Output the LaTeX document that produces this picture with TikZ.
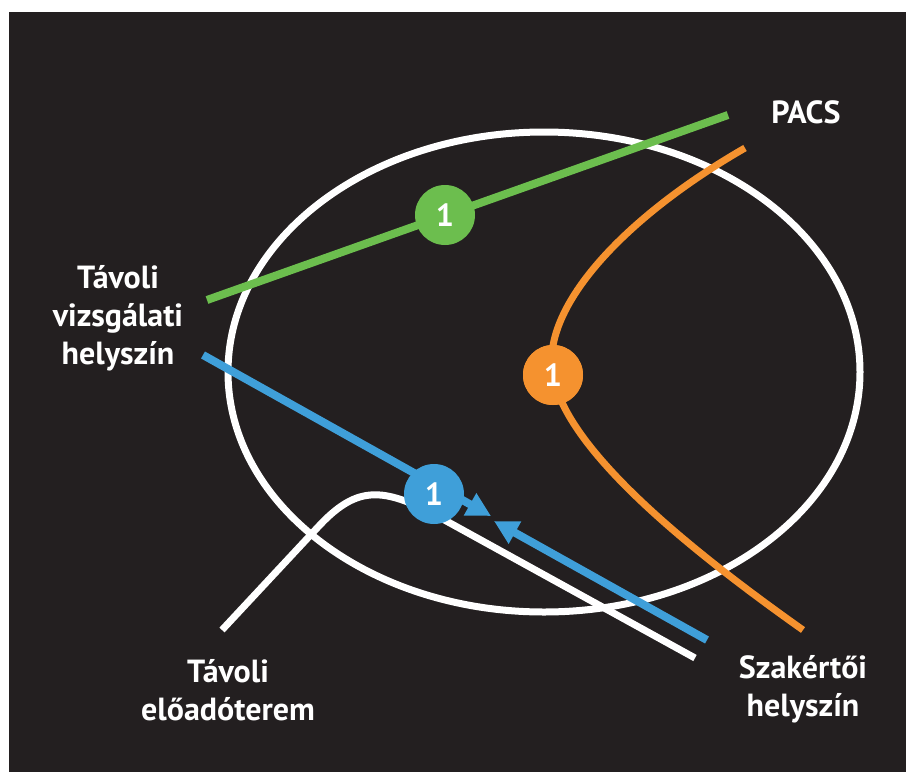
\documentclass[tikz,border=0pt]{standalone}
\usepackage{fontspec}
\setmainfont{PT Sans}
\usetikzlibrary{arrows.meta}
\definecolor{bg}{HTML}{231F20}
\definecolor{cgreen}{HTML}{6CBE4E}
\definecolor{corange}{HTML}{F5922F}
\definecolor{cblue}{HTML}{3F9FD9}
\tikzset{
  lbl/.style={text=white, align=center, font=\bfseries\fontsize{32}{38}\selectfont, inner sep=0pt},
  badge/.style={circle, minimum size=60pt, inner sep=0pt, text=white, font=\bfseries\fontsize{32}{34}\selectfont},
  conn/.style={line width=8pt},
}
\begin{document}
\begin{tikzpicture}[x=1pt,y=-1pt]
\useasboundingbox (0,0) rectangle (906,772);
\fill[white] (0,0) rectangle (906,772);
\fill[bg] (9,12) rectangle (906,772);
% ellipse
\draw[white, line width=7pt] (544,372) ellipse [x radius=316, y radius=240];
% coordinates
\coordinate (g1) at (207,300);
\coordinate (g2) at (728,115);
\coordinate (o1) at (745,148);
\coordinate (o2) at (803,630);
\coordinate (b1) at (203,355);
\coordinate (bt1) at (491,516);
\coordinate (b2) at (707,640);
\coordinate (bt2) at (494,521);
\coordinate (w1) at (222,630);
\coordinate (w2) at (695,658);
% white curve
\draw[white, line width=7pt] (w1) -- (318,527) .. controls (355,487) and (380,487) .. (430,512) -- (w2);
% green
\draw[cgreen, conn] (g1) -- (g2);
\node[badge, fill=cgreen] (gc) at (445,215) {1};
% orange
\node[badge, fill=corange] (oc) at (553,375) {};
\draw[corange, line width=7pt] (o1) .. controls (620,220) and (540,310) .. (oc.center)
  .. controls (566,450) and (690,550) .. (o2);
\node[badge, fill=corange] at (oc.center) {1};
% blue
\draw[cblue, conn, -{Triangle[length=24pt,width=24pt]}] (b1) -- (bt1);
\draw[cblue, conn, -{Triangle[length=24pt,width=24pt]}] (b2) -- (bt2);
\node[badge, fill=cblue] (bc) at (434,494) {1};
% labels
\node[lbl] (t1) at (118,318) {Távoli\\vizsgálati\\helyszín};
\node[lbl] (t2) at (806,112) {PACS};
\node[lbl] (t3) at (803,689) {Szakértői\\helyszín};
\node[lbl] (t4) at (228,690) {Távoli\\előadóterem};
\end{tikzpicture}
\end{document}
